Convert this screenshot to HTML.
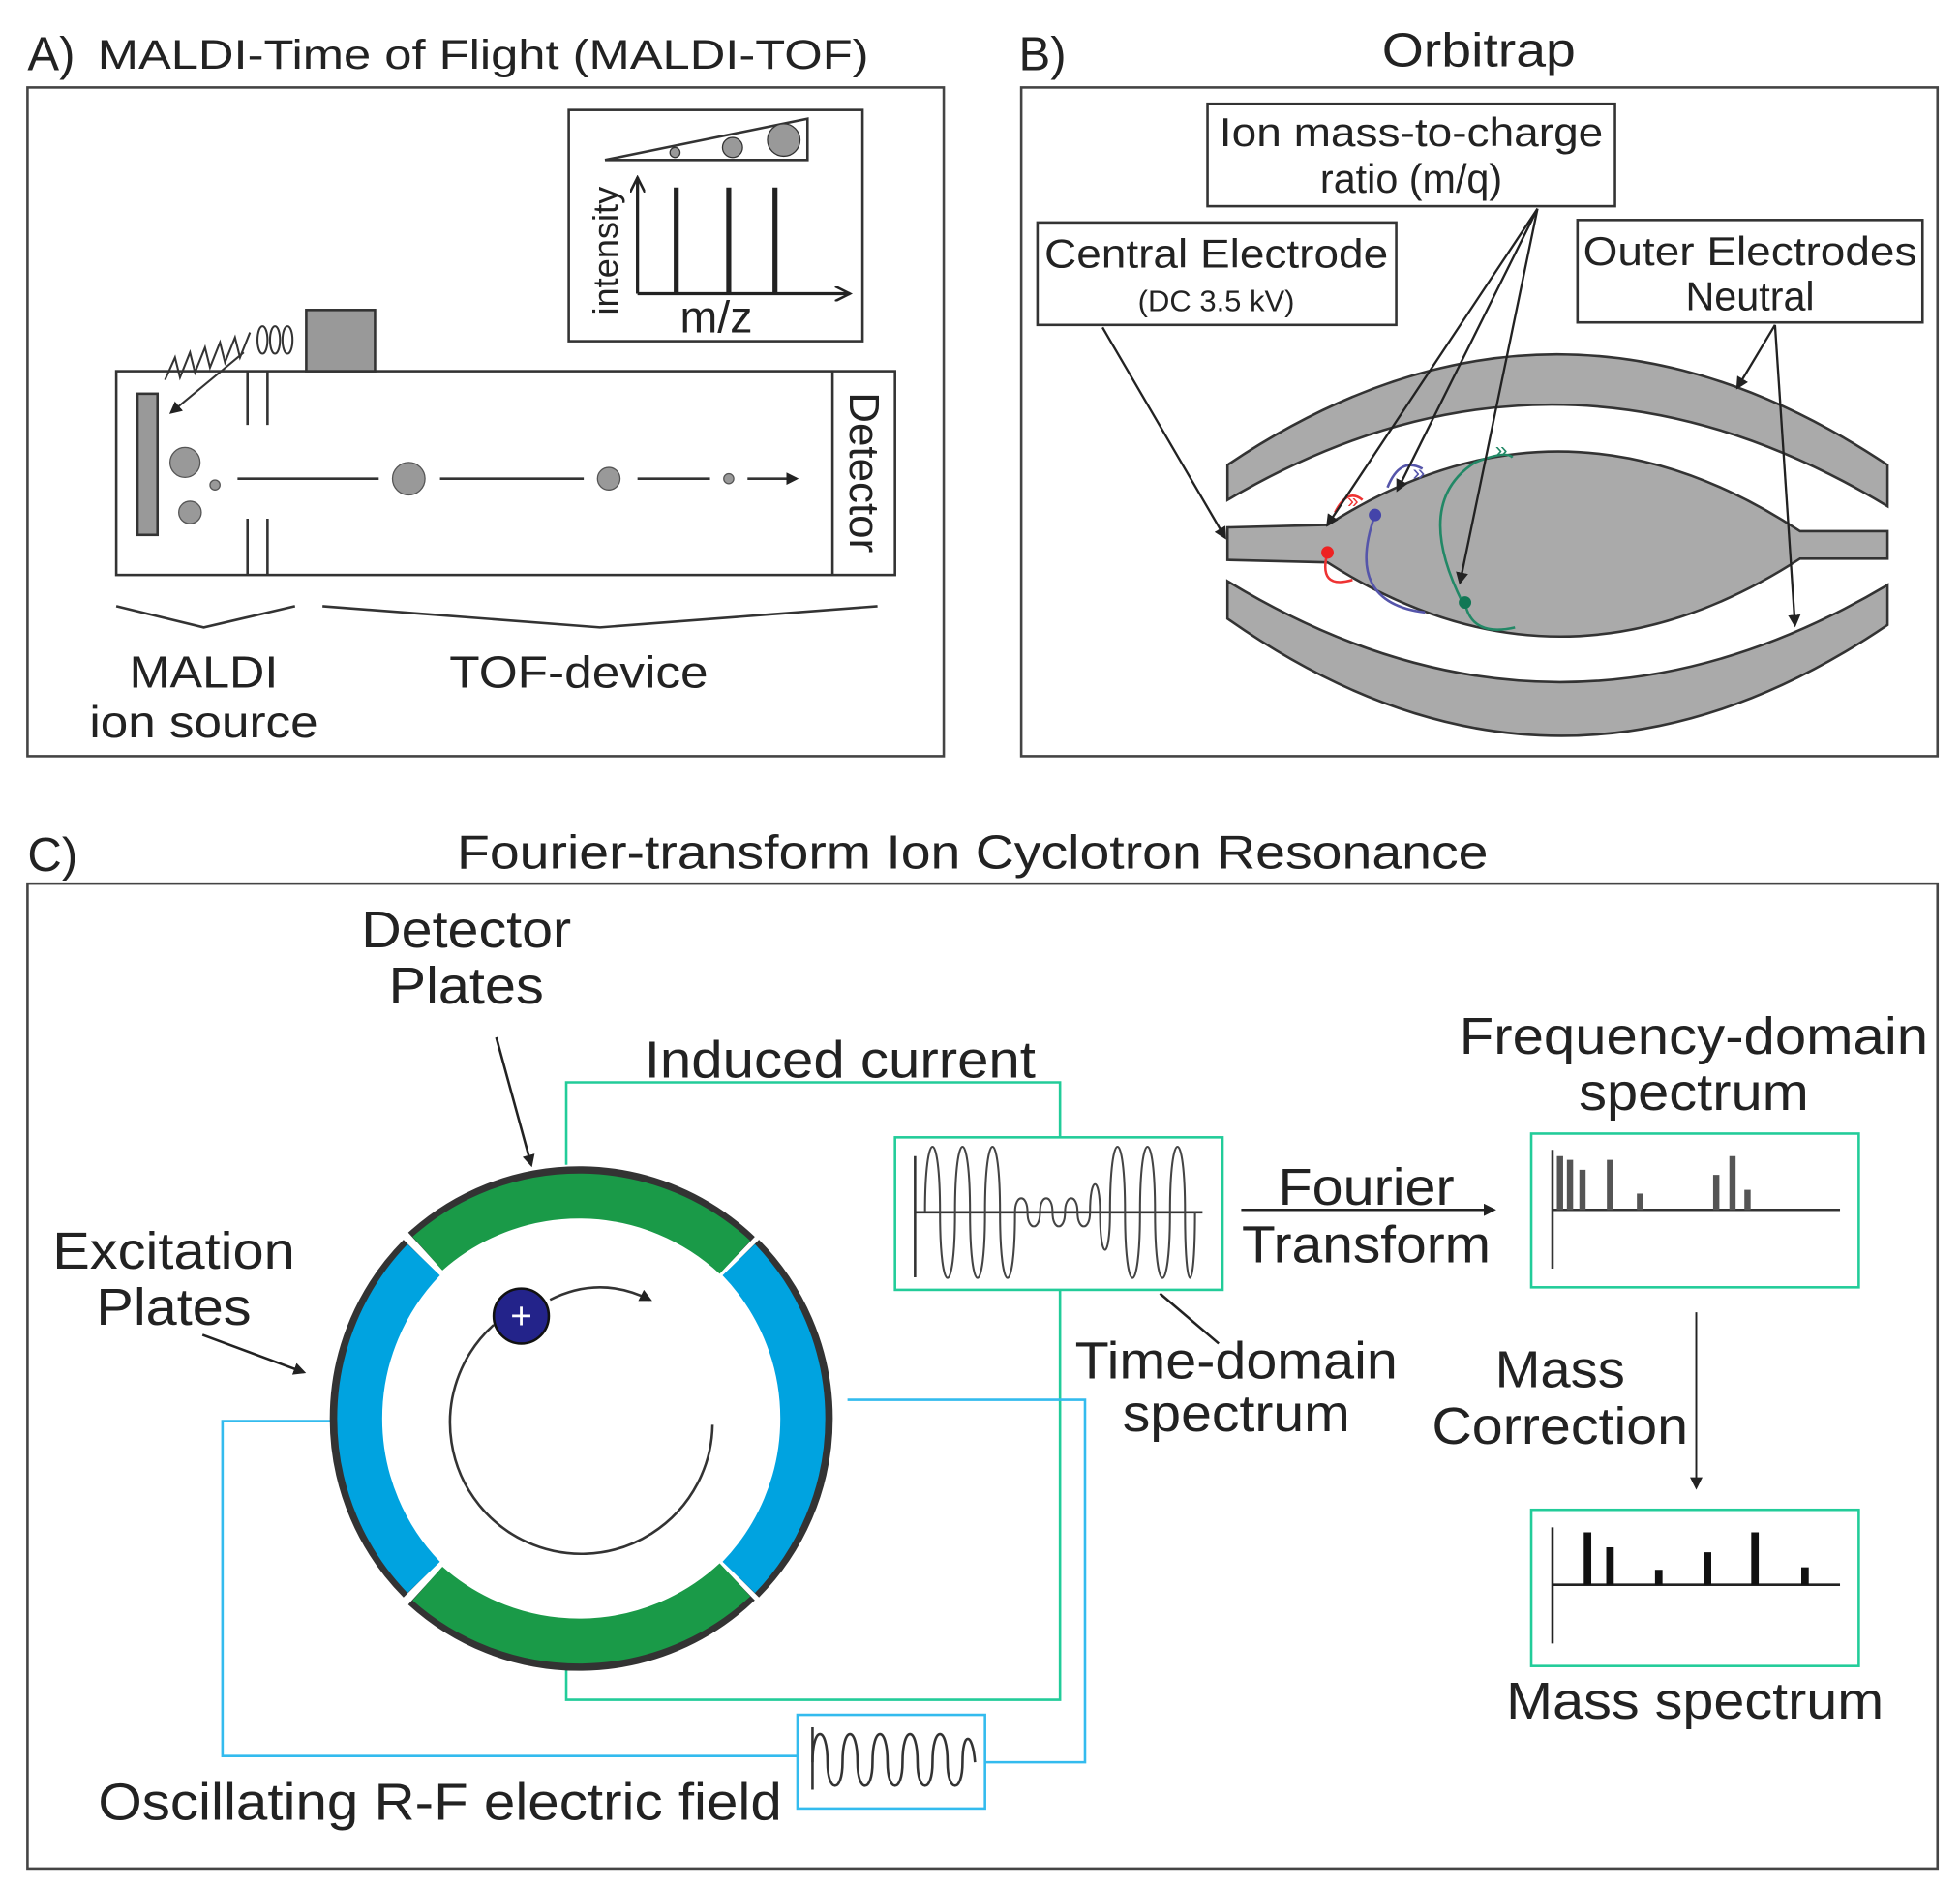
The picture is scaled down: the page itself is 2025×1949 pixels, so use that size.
<!DOCTYPE html>
<html><head><meta charset="utf-8"><style>html,body{margin:0;padding:0;background:#fff}svg{display:block}text{font-family:"Liberation Sans",sans-serif;fill:#222}</style></head><body>
<svg width="2025" height="1949" viewBox="0 0 1568 1509" preserveAspectRatio="none" xmlns="http://www.w3.org/2000/svg">
<defs>
<marker id="ah" markerWidth="10" markerHeight="10" refX="8" refY="5" orient="auto" markerUnits="userSpaceOnUse"><path d="M0,0 L10,5 L0,10 Z" fill="#222"/></marker>
<marker id="ao" markerWidth="14" markerHeight="12" refX="12" refY="6" orient="auto" markerUnits="userSpaceOnUse"><path d="M0,0 L12,6 L0,12" fill="none" stroke="#222" stroke-width="2"/></marker>
</defs>
<!-- Panel A -->
<text x="22" y="56" font-size="38">A)</text>
<text x="78" y="55" font-size="33" textLength="617" lengthAdjust="spacingAndGlyphs">MALDI-Time of Flight (MALDI-TOF)</text>
<rect x="22" y="70" width="733" height="535" fill="none" stroke="#444" stroke-width="2"/>
<rect x="455" y="88" width="235" height="185" fill="none" stroke="#333" stroke-width="2"/>
<polygon points="484,128 646,95 646,128" fill="none" stroke="#333" stroke-width="2"/>
<circle cx="540" cy="122" r="4" fill="#999" stroke="#333"/><circle cx="586" cy="118" r="8" fill="#999" stroke="#333"/><circle cx="627" cy="112" r="13" fill="#999" stroke="#333"/>
<line x1="510" y1="235" x2="510" y2="142" stroke="#222" stroke-width="2.5" marker-end="url(#ao)"/>
<line x1="510" y1="235" x2="680" y2="235" stroke="#222" stroke-width="2.5" marker-end="url(#ao)"/>
<line x1="541" y1="150" x2="541" y2="235" stroke="#222" stroke-width="4"/><line x1="583" y1="150" x2="583" y2="235" stroke="#222" stroke-width="4"/><line x1="620" y1="150" x2="620" y2="235" stroke="#222" stroke-width="4"/>
<text x="0" y="0" font-size="28" transform="translate(494,252) rotate(-90)">intensity</text>
<text x="573" y="266" font-size="36" text-anchor="middle">m/z</text>
<rect x="93" y="297" width="623" height="163" fill="none" stroke="#333" stroke-width="2"/>
<line x1="666" y1="297" x2="666" y2="460" stroke="#333" stroke-width="2"/>
<text x="0" y="0" font-size="34" text-anchor="middle" transform="translate(680,378) rotate(90)">Detector</text>
<rect x="110" y="315" width="16" height="113" fill="#999" stroke="#333" stroke-width="2"/>
<g stroke="#333" stroke-width="2"><line x1="198" y1="297" x2="198" y2="340"/><line x1="214" y1="297" x2="214" y2="340"/><line x1="198" y1="415" x2="198" y2="460"/><line x1="214" y1="415" x2="214" y2="460"/></g>
<circle cx="148" cy="370" r="12" fill="#999" stroke="#555"/><circle cx="152" cy="410" r="9" fill="#999" stroke="#555"/><circle cx="172" cy="388" r="4" fill="#999" stroke="#555"/>
<g stroke="#333" stroke-width="2"><line x1="190" y1="383" x2="303" y2="383"/><line x1="352" y1="383" x2="467" y2="383"/><line x1="510" y1="383" x2="568" y2="383"/><line x1="598" y1="383" x2="637" y2="383" marker-end="url(#ah)"/></g>
<circle cx="327" cy="383" r="13" fill="#999" stroke="#555"/><circle cx="487" cy="383" r="9" fill="#999" stroke="#555"/><circle cx="583" cy="383" r="4" fill="#999" stroke="#555"/>
<rect x="245" y="248" width="55" height="49" fill="#999" stroke="#333" stroke-width="2"/>
<g fill="none" stroke="#333" stroke-width="1.6"><ellipse cx="210" cy="272" rx="4" ry="11"/><ellipse cx="220" cy="272" rx="4" ry="11"/><ellipse cx="230" cy="272" rx="4" ry="11"/>
<path d="M200,266 l-8,20 l-4,-16 l-8,20 l-4,-16 l-8,20 l-4,-16 l-8,20 l-4,-16 l-8,20 l-4,-16 l-8,18"/>
<line x1="195" y1="282" x2="137" y2="330" marker-end="url(#ah)"/></g>
<polyline points="93,485 163,502 236,485" fill="none" stroke="#333" stroke-width="2"/>
<polyline points="258,485 480,502 702,485" fill="none" stroke="#333" stroke-width="2"/>
<text x="163" y="550" font-size="36" text-anchor="middle" textLength="119" lengthAdjust="spacingAndGlyphs">MALDI</text>
<text x="163" y="590" font-size="36" text-anchor="middle" textLength="183" lengthAdjust="spacingAndGlyphs">ion source</text>
<text x="463" y="550" font-size="36" text-anchor="middle" textLength="207" lengthAdjust="spacingAndGlyphs">TOF-device</text>
<!-- Panel B -->
<text x="815" y="56" font-size="38">B)</text>
<text x="1183" y="53" font-size="38" text-anchor="middle" textLength="155" lengthAdjust="spacingAndGlyphs">Orbitrap</text>
<rect x="817" y="70" width="733" height="535" fill="none" stroke="#444" stroke-width="2"/>
<path d="M982,372 Q1245,195 1510,372 L1510,405 Q1245,245 982,400 Z" fill="#aaa" stroke="#333" stroke-width="2"/>
<path d="M982,465 Q1245,625 1510,468 L1510,500 Q1245,680 982,495 Z" fill="#aaa" stroke="#333" stroke-width="2"/>
<path d="M982,422 L1062,420 Q1250,300 1440,425 L1510,425 L1510,447 L1440,447 Q1250,570 1062,450 L982,448 Z" fill="#aaa" stroke="#333" stroke-width="2"/>
<g fill="none" stroke-width="2"><path d="M1062,442 q-8,30 20,22 M1068,410 q10,-20 22,-10" stroke="#e33"/><path d="M1100,412 q-25,70 40,78 M1110,390 q10,-25 28,-15" stroke="#55a"/><path d="M1170,482 q-40,-80 10,-112 q25,-10 30,-4 M1172,482 q5,28 40,20" stroke="#286"/></g>
<circle cx="1062" cy="442" r="5" fill="#e22"/><circle cx="1100" cy="412" r="5" fill="#44a"/><circle cx="1172" cy="482" r="5" fill="#175"/>
<text x="1078" y="406" font-size="16" style="fill:#e33">»</text><text x="1130" y="384" font-size="18" style="fill:#55a">»</text><text x="1196" y="366" font-size="18" style="fill:#286">»</text>
<rect x="966" y="83" width="326" height="82" fill="#fff" stroke="#333" stroke-width="2"/>
<text x="1129" y="117" font-size="32" text-anchor="middle" textLength="307" lengthAdjust="spacingAndGlyphs">Ion mass-to-charge</text><text x="1129" y="154" font-size="32" text-anchor="middle">ratio (m/q)</text>
<rect x="830" y="178" width="287" height="82" fill="#fff" stroke="#333" stroke-width="2"/>
<text x="973" y="214" font-size="32" text-anchor="middle" textLength="275" lengthAdjust="spacingAndGlyphs">Central Electrode</text><text x="973" y="249" font-size="24" text-anchor="middle">(DC 3.5 kV)</text>
<rect x="1262" y="176" width="276" height="82" fill="#fff" stroke="#333" stroke-width="2"/>
<text x="1400" y="212" font-size="32" text-anchor="middle" textLength="267" lengthAdjust="spacingAndGlyphs">Outer Electrodes</text><text x="1400" y="248" font-size="32" text-anchor="middle">Neutral</text>
<g stroke="#222" stroke-width="1.8" fill="none">
<line x1="882" y1="262" x2="980" y2="430" marker-end="url(#ah)"/>
<line x1="1230" y1="167" x2="1062" y2="420" marker-end="url(#ah)"/>
<line x1="1230" y1="167" x2="1118" y2="392" marker-end="url(#ah)"/>
<line x1="1230" y1="167" x2="1168" y2="466" marker-end="url(#ah)"/>
<line x1="1420" y1="260" x2="1390" y2="310" marker-end="url(#ah)"/>
<line x1="1420" y1="260" x2="1436" y2="500" marker-end="url(#ah)"/>
</g>
<!-- Panel C -->
<text x="22" y="697" font-size="38">C)</text>
<text x="778" y="695" font-size="38" text-anchor="middle" textLength="825" lengthAdjust="spacingAndGlyphs">Fourier-transform Ion Cyclotron Resonance</text>
<rect x="22" y="707" width="1528" height="788" fill="none" stroke="#444" stroke-width="2"/>
<g fill="none" stroke-width="2"><polyline points="453,932 453,866 848,866 848,910" stroke="#2c9"/><polyline points="848,1032 848,1360 453,1360 453,1332" stroke="#2c9"/>
<polyline points="270,1137 178,1137 178,1405 638,1405" stroke="#3be"/><polyline points="788,1410 868,1410 868,1120 678,1120" stroke="#3be"/></g>
<g fill="none" stroke-linecap="butt">
<path d="M340,1001 A183,183 0 0 1 590,1004" stroke="#333" stroke-width="40"/><path d="M342,1003 A183,183 0 0 1 588,1006" stroke="#1a9a48" stroke-width="36"/>
<path d="M590,1266 A183,183 0 0 1 340,1269" stroke="#333" stroke-width="40"/><path d="M588,1264 A183,183 0 0 1 342,1267" stroke="#1a9a48" stroke-width="36"/>
<path d="M337,1264 A183,183 0 0 1 337,1006" stroke="#333" stroke-width="40"/><path d="M339,1262 A183,183 0 0 1 339,1008" stroke="#00a3e0" stroke-width="36"/>
<path d="M593,1006 A183,183 0 0 1 593,1264" stroke="#333" stroke-width="40"/><path d="M591,1008 A183,183 0 0 1 591,1262" stroke="#00a3e0" stroke-width="36"/>
</g>
<path d="M395,1060 A105,105 0 1 0 570,1140" fill="none" stroke="#333" stroke-width="2"/>
<path d="M440,1040 Q480,1020 520,1040" fill="none" stroke="#333" stroke-width="2" marker-end="url(#ah)"/>
<circle cx="417" cy="1053" r="22" fill="#23238a" stroke="#111" stroke-width="2"/>
<text x="417" y="1063" font-size="30" text-anchor="middle" style="fill:#fff">+</text>
<rect x="716" y="910" width="262" height="122" fill="#fff" stroke="#2c9" stroke-width="2"/>
<line x1="732" y1="925" x2="732" y2="1022" stroke="#333" stroke-width="2"/><line x1="732" y1="970" x2="962" y2="970" stroke="#333" stroke-width="2"/>
<path d="M740,970 C740,900 752,900 752,970 C752,1040 764,1040 764,970 C764,900 776,900 776,970 C776,1040 788,1040 788,970 C788,900 800,900 800,970 C800,1040 812,1040 812,970 C812,955 822,955 822,970 C822,985 832,985 832,970 C832,955 842,955 842,970 C842,985 852,985 852,970 C852,955 862,955 862,970 C862,985 872,985 872,970 C872,940 880,940 880,970 C880,1010 888,1010 888,970 C888,900 900,900 900,970 C900,1040 912,1040 912,970 C912,900 924,900 924,970 C924,1040 936,1040 936,970 C936,900 948,900 948,970 C948,1040 956,1040 956,970" fill="none" stroke="#444" stroke-width="1.6"/>
<rect x="638" y="1372" width="150" height="75" fill="#fff" stroke="#3be" stroke-width="2"/>
<line x1="650" y1="1382" x2="650" y2="1432" stroke="#333" stroke-width="2"/>
<path d="M650,1410 C650,1380 662,1380 662,1410 C662,1435 674,1435 674,1410 C674,1380 686,1380 686,1410 C686,1435 698,1435 698,1410 C698,1380 710,1380 710,1410 C710,1435 722,1435 722,1410 C722,1380 734,1380 734,1410 C734,1435 746,1435 746,1410 C746,1380 758,1380 758,1410 C758,1435 770,1435 770,1410 C770,1385 778,1385 780,1410" fill="none" stroke="#333" stroke-width="2"/>
<text x="373" y="758" font-size="42" text-anchor="middle" textLength="168" lengthAdjust="spacingAndGlyphs">Detector</text><text x="373" y="803" font-size="42" text-anchor="middle" textLength="124" lengthAdjust="spacingAndGlyphs">Plates</text>
<line x1="397" y1="830" x2="425" y2="932" stroke="#222" stroke-width="2" marker-end="url(#ah)"/>
<text x="672" y="862" font-size="42" text-anchor="middle" textLength="313" lengthAdjust="spacingAndGlyphs">Induced current</text>
<text x="139" y="1015" font-size="42" text-anchor="middle" textLength="194" lengthAdjust="spacingAndGlyphs">Excitation</text><text x="139" y="1060" font-size="42" text-anchor="middle" textLength="124" lengthAdjust="spacingAndGlyphs">Plates</text>
<line x1="162" y1="1068" x2="243" y2="1098" stroke="#222" stroke-width="2" marker-end="url(#ah)"/>
<text x="1093" y="964" font-size="42" text-anchor="middle" textLength="141" lengthAdjust="spacingAndGlyphs">Fourier</text><text x="1093" y="1010" font-size="42" text-anchor="middle" textLength="199" lengthAdjust="spacingAndGlyphs">Transform</text>
<line x1="993" y1="968" x2="1195" y2="968" stroke="#222" stroke-width="2" marker-end="url(#ah)"/>
<line x1="928" y1="1035" x2="975" y2="1075" stroke="#222" stroke-width="2"/>
<text x="989" y="1103" font-size="42" text-anchor="middle" textLength="258" lengthAdjust="spacingAndGlyphs">Time-domain</text><text x="989" y="1145" font-size="42" text-anchor="middle" textLength="182" lengthAdjust="spacingAndGlyphs">spectrum</text>
<text x="1355" y="843" font-size="42" text-anchor="middle" textLength="375" lengthAdjust="spacingAndGlyphs">Frequency-domain</text><text x="1355" y="888" font-size="42" text-anchor="middle" textLength="184" lengthAdjust="spacingAndGlyphs">spectrum</text>
<rect x="1225" y="907" width="262" height="123" fill="#fff" stroke="#2c9" stroke-width="2"/>
<line x1="1242" y1="920" x2="1242" y2="1015" stroke="#333" stroke-width="2"/><line x1="1242" y1="968" x2="1472" y2="968" stroke="#333" stroke-width="2"/>
<g stroke="#555" stroke-width="5"><line x1="1248" y1="968" x2="1248" y2="925"/><line x1="1256" y1="968" x2="1256" y2="928"/><line x1="1266" y1="968" x2="1266" y2="936"/><line x1="1288" y1="968" x2="1288" y2="928"/><line x1="1312" y1="968" x2="1312" y2="955"/><line x1="1373" y1="968" x2="1373" y2="940"/><line x1="1386" y1="968" x2="1386" y2="925"/><line x1="1398" y1="968" x2="1398" y2="952"/></g>
<text x="1248" y="1110" font-size="42" text-anchor="middle" textLength="104" lengthAdjust="spacingAndGlyphs">Mass</text><text x="1248" y="1155" font-size="42" text-anchor="middle" textLength="205" lengthAdjust="spacingAndGlyphs">Correction</text>
<line x1="1357" y1="1050" x2="1357" y2="1190" stroke="#222" stroke-width="1.5" marker-end="url(#ah)"/>
<rect x="1225" y="1208" width="262" height="125" fill="#fff" stroke="#2c9" stroke-width="2"/>
<line x1="1242" y1="1222" x2="1242" y2="1315" stroke="#222" stroke-width="2"/><line x1="1242" y1="1268" x2="1472" y2="1268" stroke="#222" stroke-width="2"/>
<g stroke="#111" stroke-width="6"><line x1="1270" y1="1268" x2="1270" y2="1226"/><line x1="1288" y1="1268" x2="1288" y2="1238"/><line x1="1327" y1="1268" x2="1327" y2="1256"/><line x1="1366" y1="1268" x2="1366" y2="1242"/><line x1="1404" y1="1268" x2="1404" y2="1226"/><line x1="1444" y1="1268" x2="1444" y2="1254"/></g>
<text x="1356" y="1375" font-size="42" text-anchor="middle" textLength="302" lengthAdjust="spacingAndGlyphs">Mass spectrum</text>
<text x="352" y="1456" font-size="42" text-anchor="middle" textLength="547" lengthAdjust="spacingAndGlyphs">Oscillating R-F electric field</text>
</svg>
</body></html>
